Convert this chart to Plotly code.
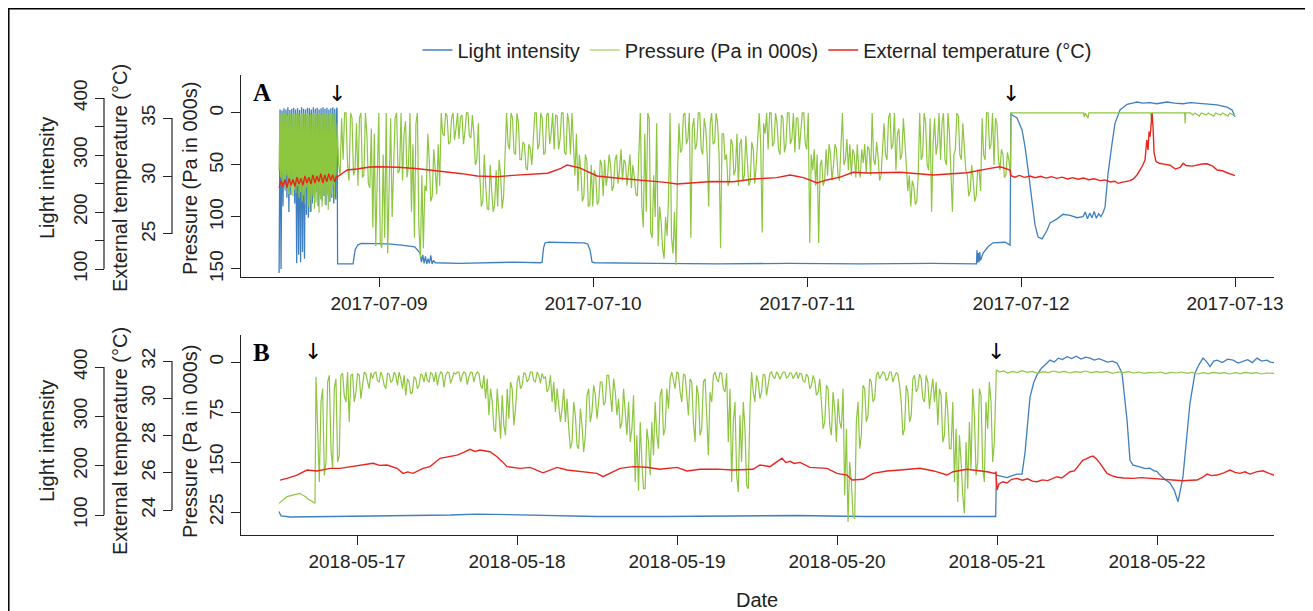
import pandas as pd
import plotly.graph_objects as go

# the page body has an 8px margin, so the figure is drawn 8px in from the window corner
OFF = 8
W, H = 1313 - OFF, 611 - OFF

BLUE = "#3f7fbf"
GREEN = "#8dc63f"
RED = "#e8261e"
INK = "#222222"
FONT = "Liberation Sans, Arial, Helvetica, sans-serif"

A0 = pd.Timestamp("2017-07-08")
B0 = pd.Timestamp("2018-05-16")

# ---------------- panel A (hours after 2017-07-08 00:00) ----------------
# dense phase before the first arrow, logged evenly 12.8h - 19.25h
a_light_dense = [93, 380, 100, 378, 210, 382, 240, 380, 225, 384, 200, 379, 230, 381, 250, 383,
                 215, 380, 110, 382, 125, 379, 112, 384, 130, 381, 118, 380, 195, 383, 190, 382,
                 200, 380, 215, 384, 225, 381, 235, 383, 210, 380, 230, 382, 220, 384, 228, 381,
                 212, 383, 232, 380, 218, 382, 225, 384, 215, 381, 222, 383]
a_press_dense = [55, 0, 62, 2, 70, 0, 66, 1, 75, 0, 60, 3, 78, 0, 72, 0, 68, 2, 80, 0, 74, 1, 77, 0,
                 70, 0, 82, 2, 76, 0, 85, 0, 79, 1, 88, 0, 72, 0, 90, 2, 84, 0, 95, 1, 80, 0, 92, 0,
                 86, 3, 78, 0, 96, 0, 83, 2, 90, 0, 75, 1, 88, 0, 80, 0, 93, 2, 85, 0, 78, 1, 70, 0,
                 82, 0, 60, 10]
a_temp_dense = [29.0, 29.6, 29.1, 29.7, 29.0, 29.8, 29.2, 29.7, 29.1, 29.9, 29.3, 29.8, 29.2, 30.0,
                29.4, 29.9, 29.3, 30.1, 29.4, 30.0, 29.5, 30.2, 29.4, 30.1, 29.5, 30.2, 29.6, 30.1,
                29.5, 30.0]

# pressure between the arrows, logged evenly 19.3h - 94.8h: (reading, next reading) per step
a_press_band = [
    (10, 50), (60, 5), (45, 0),
    (0, 50), (65, 0), (5, 60), (55, 10), (70, 5), (0, 62), (60, 0), (20, 68), (72, 15),
    (110, 20), (128, 60), (0, 125), (130, 40), (120, 0), (135, 70), (5, 100),
    (60, 5), (0, 58), (55, 0), (65, 20), (8, 62), (50, 0),
    (95, 30), (120, 10), (0, 110), (139, 60), (130, 70),
    (75, 20), (45, 85), (80, 35), (55, 78), (30, 70),
    (0, 20), (22, 0), (3, 30), (28, 5), (0, 26), (15, 0), (25, 4), (2, 30), (18, 0), (0, 22), (24, 2),
    (20, 50), (45, 10), (60, 90), (85, 40), (70, 92), (93, 50), (75, 95), (88, 55), (90, 45), (60, 92), (80, 30),
    (0, 30), (35, 0), (5, 38), (40, 0), (10, 45),
    (45, 28), (30, 52), (55, 30), (35, 50), (25, 0),
    (0, 35), (30, 0), (5, 40), (38, 2), (0, 30), (20, 0), (35, 2), (3, 35), (25, 0), (0, 38), (40, 0), (10, 40), (0, 30),
    (60, 20), (75, 40),
    (55, 85), (80, 40), (45, 90), (88, 50), (90, 55), (60, 88), (85, 45), (50, 80),
    (45, 70), (60, 40), (50, 75), (70, 45), (40, 68), (55, 35), (65, 45), (48, 70), (58, 40), (72, 50), (62, 78), (80, 45),
    (0, 90), (110, 20), (95, 0), (5, 115), (120, 60), (100, 10),
    (128, 90), (105, 130), (140, 100), (118, 80), (0, 120), (135, 95), (146, 60),
    (10, 38), (35, 2), (0, 30), (25, 0), (120, 15), (5, 35), (30, 0), (0, 35), (40, 5), (15, 40), (90, 10),
    (0, 30), (28, 0), (10, 40), (130, 20), (20, 45),
    (40, 70), (65, 25), (30, 60), (55, 20), (70, 30), (25, 65), (60, 22), (45, 70), (65, 28), (35, 68), (50, 20),
    (0, 30), (115, 10), (20, 0), (35, 0), (0, 32), (28, 0), (10, 35), (40, 2), (5, 38), (30, 0), (0, 30),
    (25, 0), (38, 5), (5, 35), (20, 0), (0, 30), (35, 0), (125, 40),
    (55, 35), (70, 40), (125, 50), (45, 70), (65, 35), (60, 30), (40, 65),
    (50, 30), (35, 60), (65, 35), (0, 50), (45, 25), (55, 30), (60, 35), (40, 62), (30, 55), (62, 35),
    (48, 30), (58, 32), (35, 60), (0, 45), (50, 28), (42, 65), (60, 35),
    (10, 40), (45, 5), (0, 35), (30, 0), (55, 20), (15, 45), (40, 5), (25, 50),
    (75, 60), (90, 65), (70, 88), (85, 60),
    (0, 45), (40, 0), (10, 50), (55, 5), (95, 30), (5, 40), (30, 0), (45, 10), (0, 45), (50, 0), (20, 55),
    (95, 40), (35, 0), (3, 40), (45, 10), (30, 55),
    (60, 80), (75, 50), (65, 85), (80, 55), (55, 75),
    (5, 40), (45, 0), (0, 35), (30, 0), (50, 5), (10, 45),
    (55, 35), (40, 62), (60, 38), (45, 60),
]

a_press_pts = [(94.88, 0), (103.0, 0), (103.1, 4), (103.2, 0), (103.5, 5), (103.6, 0), (110.55, 0),
               (110.6, 7), (110.7, 0), (114.35, 0), (114.4, 10), (114.45, 0), (115.0, 0), (115.3, 2),
               (115.5, 0), (116.0, 3), (116.2, 0), (116.8, 2), (117.0, 0), (117.6, 3), (117.8, 0),
               (118.4, 2), (118.6, 0), (119.2, 3), (119.4, 0), (120.0, 3)]

a_light_pts = [(19.29, 380), (19.35, 109), (21.08, 109), (21.31, 133), (21.6, 142), (22.0, 145),
               (23.5, 145), (25.0, 144), (26.5, 142), (27.48, 140), (28.0, 139), (28.6, 128),
               (28.75, 112), (28.9, 125), (29.05, 110), (29.2, 122), (29.35, 109), (29.5, 118),
               (29.65, 110), (29.8, 124), (29.95, 109), (30.1, 115), (30.3, 111), (33.0, 110),
               (36.0, 111), (39.0, 112), (42.1, 111), (42.28, 112), (42.45, 137), (42.62, 146),
               (43.0, 147), (44.5, 147), (46.0, 146), (47.0, 146), (47.4, 144), (47.66, 133),
               (47.89, 112), (48.22, 111), (55.0, 110), (62.0, 109), (70.0, 110), (78.0, 109),
               (86.0, 110), (91.0, 109), (91.06, 133), (91.12, 111), (91.2, 128), (91.28, 112),
               (91.36, 130), (91.45, 115), (91.74, 128), (92.3, 139), (92.85, 146), (93.5, 147),
               (94.2, 147), (94.77, 142), (94.86, 374), (95.0, 370), (95.55, 365), (96.11, 344),
               (96.45, 314), (96.79, 274), (97.23, 221), (97.57, 177), (97.91, 156), (98.36, 153),
               (98.92, 168), (99.25, 181), (100.04, 188), (100.71, 196), (101.5, 194), (102.28, 190),
               (102.95, 192), (103.2, 200), (103.45, 188), (103.7, 198), (103.95, 190), (104.2, 201),
               (104.45, 189), (104.7, 197), (104.95, 192), (105.2, 199), (105.42, 209), (105.76, 268),
               (106.21, 321), (106.54, 356), (107.1, 379), (107.89, 389), (108.5, 391), (109.01, 393),
               (109.6, 391), (110.47, 392), (111.2, 390), (112.37, 393), (113.2, 391), (114.17, 390),
               (115.0, 392), (116.08, 391), (117.0, 389), (117.98, 388), (119.1, 384), (119.66, 379),
               (120.0, 367)]

a_temp_pts = [(19.29, 29.9), (19.62, 30.09), (20.41, 30.52), (21.5, 30.6), (22.99, 30.78), (24.0, 30.8),
              (26.2, 30.75), (28.4, 30.62), (29.72, 30.52), (31.5, 30.37), (33.3, 30.2), (34.99, 30.0),
              (37.23, 29.94), (39.0, 30.05), (40.93, 30.17), (42.9, 30.24), (44.4, 30.66), (45.08, 30.95),
              (46.5, 30.7), (48.45, 30.0), (50.3, 29.85), (52.15, 29.74), (54.2, 29.6), (56.1, 29.45),
              (57.42, 29.31), (59.4, 29.45), (61.3, 29.52), (63.7, 29.51), (66.0, 29.74), (68.6, 29.86),
              (70.1, 30.09), (71.6, 29.86), (73.12, 29.4), (74.2, 29.66), (75.7, 29.9), (77.16, 30.32),
              (78.8, 30.26), (82.43, 30.32), (86.13, 30.09), (89.94, 30.28), (91.06, 30.47),
              (92.52, 30.66), (93.65, 30.8), (94.77, 30.52), (94.86, 30.03), (95.3, 29.9), (95.8, 30.05),
              (96.4, 29.88), (97.0, 30.0), (97.6, 29.85), (98.2, 29.97), (98.8, 29.82), (99.4, 29.94),
              (100.0, 29.8), (100.6, 29.9), (101.2, 29.75), (101.8, 29.86), (102.4, 29.72), (103.0, 29.82),
              (103.6, 29.68), (104.2, 29.76), (104.86, 29.6), (105.4, 29.66), (106.0, 29.49), (106.5, 29.55),
              (106.9, 29.37), (107.3, 29.45), (107.7, 29.5), (108.22, 29.6), (108.6, 29.75), (109.0, 30.09),
              (109.34, 30.52), (109.6, 30.86), (109.9, 31.38), (110.1, 33.1), (110.24, 32.24),
              (110.35, 33.82), (110.47, 33.4), (110.58, 34.57), (110.69, 35.4), (110.8, 34.25),
              (110.92, 32.0), (111.14, 31.24), (111.5, 31.1), (112.2, 31.0), (112.71, 30.93), (113.3, 30.6),
              (113.83, 30.75), (114.17, 31.1), (114.5, 30.9), (115.2, 30.85), (116.3, 31.03),
              (116.86, 31.05), (117.5, 30.85), (117.98, 30.52), (118.6, 30.45), (119.1, 30.28),
              (120.0, 30.03)]

# ---------------- panel B (hours after 2018-05-16 00:00) ----------------
b_press_start = [(12.3, 212), (12.7, 208), (13.1, 205), (13.5, 202), (13.9, 201), (14.3, 199), (14.7, 198),
                 (15.0, 198), (15.4, 197), (15.9, 200), (16.3, 202), (16.6, 205), (16.95, 207), (17.3, 210),
                 (17.7, 212)]

# pressure between the arrows, logged evenly 17.85h - 119.85h: (reading, next reading) per step
b_press_band = [
    (22, 120), (180, 60), (40, 170), (150, 30), (20, 130), (160, 40), (25, 150), (140, 20),
    (17, 50), (60, 15), (90, 20), (18, 60), (45, 17), (20, 55),
    (35, 15), (18, 30), (40, 16), (25, 17), (15, 28), (30, 15), (22, 35), (40, 17), (18, 30), (28, 15), (20, 35), (15, 25),
    (40, 20), (50, 25), (30, 48), (45, 22), (25, 40), (35, 18), (20, 30), (15, 28), (30, 16),
    (18, 30), (15, 35), (22, 15), (17, 38), (20, 15), (16, 32), (25, 16), (18, 15), (15, 30), (20, 15),
    (17, 34), (22, 15), (16, 30), (19, 15), (17, 35),
    (40, 20), (55, 25), (80, 40), (60, 100), (105, 40), (75, 115), (50, 95), (110, 40), (85, 30), (40, 95), (70, 30),
    (20, 40), (35, 16), (18, 30), (25, 15), (15, 28), (30, 15), (20, 32), (17, 25), (22, 45), (40, 20), (60, 30), (75, 40), (65, 90),
    (70, 40), (90, 55), (100, 130), (120, 60), (80, 125), (130, 70), (95, 135), (110, 50), (40, 90), (75, 35), (50, 85), (60, 30),
    (30, 65), (60, 20), (20, 55), (75, 25), (45, 80), (55, 100), (90, 40), (70, 110), (60, 120), (100, 50),
    (180, 110), (193, 90), (150, 190), (190, 100), (120, 170),
    (90, 140), (60, 110), (130, 50), (40, 110), (100, 40), (70, 25),
    (15, 30), (40, 15), (17, 45), (60, 18), (20, 50),
    (80, 25), (30, 90), (120, 35), (50, 110), (100, 30), (25, 80), (140, 45), (60, 20),
    (15, 25), (30, 16), (17, 40), (45, 17),
    (120, 40), (180, 90), (60, 170), (195, 80), (150, 60), (100, 185), (190, 70),
    (15, 45), (60, 20), (30, 55), (45, 18), (20, 50), (35, 17),
    (15, 22), (25, 15), (18, 26), (20, 15), (15, 24), (22, 16), (17, 25), (20, 15), (25, 17), (18, 28),
    (30, 18), (22, 40), (35, 20), (28, 50),
    (45, 25), (60, 100), (90, 35), (40, 95), (110, 45), (70, 120), (55, 90), (100, 40),
    (200, 100), (240, 150), (180, 230), (235, 90),
    (60, 130), (110, 35), (40, 90), (80, 25), (30, 60), (55, 20),
    (15, 25), (20, 15), (17, 28), (25, 15), (15, 30), (22, 16), (18, 35),
    (60, 110), (100, 35), (45, 90), (80, 25),
    (20, 45), (40, 18), (25, 55), (60, 20), (30, 70), (45, 25),
    (60, 30), (95, 40), (50, 120), (110, 45), (75, 130),
    (130, 60), (180, 100), (210, 110), (150, 200), (227, 120), (190, 90), (160, 40),
    (80, 170), (150, 40), (50, 160), (180, 60), (100, 30), (60, 150), (120, 40),
]

b_press_end = [(119.9, 12), (120.4, 15), (121.0, 13.5), (121.6, 16.5), (122.3, 14), (123.0, 16), (123.8, 13),
               (124.5, 15.5), (125.3, 14), (126.1, 17), (126.9, 14.5), (127.7, 16), (128.5, 13.5),
               (129.3, 15.5), (130.1, 14), (130.9, 16.5), (131.7, 14.5), (132.5, 15.5), (133.3, 13.5),
               (134.1, 16), (134.9, 14.5), (135.7, 15.5), (136.5, 14), (137.3, 17), (138.1, 15), (138.9, 16),
               (139.7, 14.5), (140.5, 16.5), (141.3, 15), (142.1, 17), (142.9, 15.5), (143.7, 16.5),
               (144.5, 15), (145.3, 17.5), (146.1, 15.5), (146.9, 16.5), (147.7, 15), (148.5, 17),
               (149.3, 15.5), (150.1, 18), (150.9, 16), (151.7, 17.5), (152.5, 15.5), (153.3, 17),
               (154.1, 16), (154.9, 18), (155.7, 16), (156.5, 17.5), (157.3, 15.5), (158.1, 17), (158.9, 16),
               (159.7, 18), (160.5, 16.5), (161.55, 17)]

b_light_pts = [(12.3, 107), (12.6, 98), (14.0, 96), (20.0, 97), (30.0, 98), (38.0, 100), (42.0, 102),
               (46.0, 101), (52.0, 98), (60.0, 97), (70.0, 97), (80.0, 98), (86.0, 100), (90.0, 99),
               (100.0, 97), (110.0, 97), (119.8, 97), (119.9, 181), (121.5, 176), (122.3, 180), (123.0, 183),
               (123.75, 183), (124.2, 226), (124.95, 339), (125.5, 368), (126.0, 384), (126.7, 398),
               (127.5, 408), (127.95, 414), (128.6, 410), (129.2, 418), (129.8, 415), (130.5, 421),
               (131.2, 417), (131.9, 422), (132.6, 416), (133.3, 420), (133.95, 418), (134.6, 414),
               (135.3, 417), (135.9, 414), (136.6, 410), (137.3, 412), (138.0, 408), (138.75, 388),
               (139.5, 293), (139.95, 211), (140.4, 201), (141.3, 198), (142.2, 194), (142.95, 195),
               (143.5, 190), (144.0, 188), (144.45, 181), (145.2, 172), (145.95, 165), (146.6, 150),
               (147.15, 127), (147.5, 150), (147.9, 178), (148.4, 250), (148.95, 327), (149.7, 388),
               (150.3, 405), (150.9, 418), (151.5, 410), (151.95, 401), (152.5, 412), (153.0, 414),
               (153.8, 409), (154.6, 416), (155.4, 414), (156.2, 408), (156.9, 411), (157.6, 415),
               (158.3, 409), (159.0, 418), (159.7, 412), (160.5, 414), (161.0, 410), (161.55, 409)]

b_temp_pts = [(12.45, 25.61), (13.5, 25.7), (15.0, 25.88), (16.5, 26.15), (18.0, 26.1), (19.95, 26.24),
              (21.45, 26.24), (22.95, 26.33), (24.9, 26.42), (26.4, 26.51), (27.4, 26.4), (28.5, 26.42),
              (30.0, 26.24), (30.9, 25.97), (31.6, 26.05), (32.4, 25.97), (33.9, 26.24), (34.95, 26.33),
              (36.45, 26.78), (37.7, 26.85), (39.0, 26.95), (40.0, 27.1), (40.95, 27.26), (41.7, 27.15),
              (42.45, 27.22), (43.95, 27.13), (45.0, 26.86), (45.8, 26.6), (46.5, 26.33), (48.45, 26.24),
              (49.95, 26.29), (51.9, 26.0), (54.0, 26.29), (55.5, 26.15), (57.45, 26.06), (60.0, 25.97),
              (60.9, 25.79), (62.4, 26.06), (63.45, 26.24), (65.4, 26.33), (67.5, 26.3), (69.45, 26.19),
              (72.0, 26.29), (73.5, 26.1), (75.45, 26.19), (78.0, 26.2), (80.4, 26.15), (83.4, 26.19),
              (84.45, 26.42), (85.95, 26.33), (87.75, 26.78), (88.3, 26.55), (88.95, 26.62), (89.6, 26.5),
              (90.45, 26.56), (91.95, 26.29), (94.5, 26.24), (96.0, 25.97), (97.5, 25.88), (98.25, 25.61),
              (99.9, 25.65), (101.4, 25.97), (103.5, 26.1), (105.45, 26.15), (108.45, 26.24), (110.5, 26.1),
              (112.5, 25.88), (113.4, 26.06), (115.5, 26.19), (118.5, 26.06), (119.7, 25.97),
              (119.85, 26.06), (120.0, 25.07), (120.3, 25.4), (120.9, 25.52), (121.5, 25.45), (122.2, 25.65),
              (123.0, 25.7), (123.8, 25.6), (124.6, 25.68), (125.3, 25.55), (126.0, 25.52), (126.8, 25.62),
              (127.6, 25.58), (128.3, 25.7), (129.0, 25.79), (129.7, 25.72), (130.3, 25.9), (130.95, 26.06),
              (131.6, 26.1), (132.3, 26.4), (132.9, 26.68), (133.4, 26.75), (133.95, 26.86), (134.4, 26.9),
              (134.9, 26.75), (135.45, 26.51), (136.0, 26.2), (136.5, 25.97), (137.2, 25.85), (138.0, 25.76),
              (139.0, 25.72), (140.4, 25.7), (141.6, 25.74), (142.95, 25.7), (144.2, 25.68), (145.5, 25.65),
              (146.7, 25.62), (147.9, 25.57), (149.0, 25.6), (150.0, 25.61), (150.8, 25.75), (151.5, 25.93),
              (152.2, 25.85), (153.0, 25.88), (154.0, 26.0), (154.95, 26.15), (155.7, 26.02),
              (156.45, 25.97), (157.2, 26.05), (157.95, 25.93), (158.9, 26.05), (159.9, 26.11),
              (160.7, 25.98), (161.55, 25.88)]

# arrows marking deployment / recovery (hours)
a_arrows = [19.3, 94.9]
b_arrows = [17.4, 119.85]


def at(day0, hours):
    return [day0 + pd.Timedelta(hours=h) for h in hours]


def even(day0, h0, h1, n):
    return list(pd.date_range(day0 + pd.Timedelta(hours=h0), day0 + pd.Timedelta(hours=h1), periods=n))


def unzip(day0, pts):
    return at(day0, [p[0] for p in pts]), [p[1] for p in pts]


def flat(band):
    return [v for pair in band for v in pair]


# reference pixel -> paper fraction
def px(x):
    return (x - OFF) / W


def py(y):
    return 1 - (y - OFF) / H


fig = go.Figure()

# panel A
lx, ly = unzip(A0, a_light_pts)
fig.add_trace(go.Scatter(x=even(A0, 12.79, 19.25, len(a_light_dense)) + lx, y=a_light_dense + ly,
                         mode="lines", line=dict(color=BLUE, width=1.3), name="Light intensity",
                         xaxis="x", yaxis="y"))
a_mid = flat(a_press_band)
qx, qy = unzip(A0, a_press_pts)
fig.add_trace(go.Scatter(x=even(A0, 12.79, 19.25, len(a_press_dense)) + even(A0, 19.3, 94.8, len(a_mid)) + qx,
                         y=a_press_dense + a_mid + qy,
                         mode="lines", line=dict(color=GREEN, width=1.2), name="Pressure (Pa in 000s)",
                         xaxis="x", yaxis="y2"))
tx, ty = unzip(A0, a_temp_pts)
fig.add_trace(go.Scatter(x=even(A0, 12.79, 19.25, len(a_temp_dense)) + tx, y=a_temp_dense + ty,
                         mode="lines", line=dict(color=RED, width=1.4), name="External temperature (°C)",
                         xaxis="x", yaxis="y3"))

# panel B
lx, ly = unzip(B0, b_light_pts)
fig.add_trace(go.Scatter(x=lx, y=ly, mode="lines", line=dict(color=BLUE, width=1.3),
                         showlegend=False, xaxis="x2", yaxis="y4"))
b_mid = flat(b_press_band)
sx, sy = unzip(B0, b_press_start)
ex, ey = unzip(B0, b_press_end)
fig.add_trace(go.Scatter(x=sx + even(B0, 17.85, 119.85, len(b_mid)) + ex, y=sy + b_mid + ey,
                         mode="lines", line=dict(color=GREEN, width=1.2), showlegend=False,
                         xaxis="x2", yaxis="y5"))
tx, ty = unzip(B0, b_temp_pts)
fig.add_trace(go.Scatter(x=tx, y=ty, mode="lines", line=dict(color=RED, width=1.4),
                         showlegend=False, xaxis="x2", yaxis="y6"))

axis_style = dict(showgrid=False, zeroline=False, ticks="outside", ticklen=9, tickwidth=1.2,
                  tickcolor=INK, linecolor=INK, linewidth=1.2, automargin=False,
                  tickfont=dict(size=19, color=INK, family=FONT))
yrot = dict(axis_style, tickangle=-90)

dom_a = [py(277), py(75)]
dom_b = [py(535), py(335)]
xdom = [px(241), px(1274)]

fig.update_layout(
    width=W, height=H, template="none",
    paper_bgcolor="white", plot_bgcolor="white",
    margin=dict(l=0, r=0, t=0, b=0),
    font=dict(family=FONT, color=INK, size=19),
    showlegend=True,
    legend=dict(orientation="h", x=px(757), xanchor="center", y=py(50), yanchor="middle",
                font=dict(size=20, color=INK), bgcolor="rgba(0,0,0,0)", itemwidth=30),
    xaxis=dict(axis_style, domain=xdom, anchor="y", type="date", showline=True,
               range=["2017-07-08 08:31", "2017-07-13 04:22"], dtick=86400000,
               tick0="2017-07-09", tickformat="%Y-%m-%d"),
    xaxis2=dict(axis_style, domain=xdom, anchor="y4", type="date", showline=True,
                range=["2018-05-16 06:36", "2018-05-22 17:33"], dtick=86400000,
                tick0="2018-05-17", tickformat="%Y-%m-%d"),
    # panel A: light (base), pressure, temperature
    yaxis=dict(yrot, domain=dom_a, anchor="free", position=px(104), showline=False,
               range=[86, 440.4], tickvals=[100, 150, 200, 250, 300, 350, 400],
               ticktext=["100", "", "200", "", "300", "", "400"]),
    yaxis2=dict(yrot, overlaying="y", anchor="x", side="left", showline=True,
                range=[157.7, -36.5], tickvals=[0, 50, 100, 150]),
    yaxis3=dict(yrot, overlaying="y", anchor="free", position=px(172), side="left", showline=False,
                range=[21.29, 38.71], tickvals=[25, 30, 35]),
    # panel B
    yaxis4=dict(yrot, domain=dom_b, anchor="free", position=px(104), showline=False,
                range=[59.5, 464.9], tickvals=[100, 200, 300, 400]),
    yaxis5=dict(yrot, overlaying="y4", anchor="x2", side="left", showline=True,
                range=[259.5, -40.5], tickvals=[0, 75, 150, 225]),
    yaxis6=dict(yrot, overlaying="y4", anchor="free", position=px(172), side="left", showline=False,
                range=[22.66, 33.40], tickvals=[24, 26, 28, 30, 32]),
)

# R-style axis lines that only span the labelled ticks
for yref, lo, hi, xpos in [("y", 100, 400, 104), ("y3", 25, 35, 172),
                           ("y4", 100, 400, 104), ("y6", 24, 32, 172)]:
    fig.add_shape(type="line", xref="paper", yref=yref, x0=px(xpos), x1=px(xpos), y0=lo, y1=hi,
                  line=dict(color=INK, width=1.2))

# outer frame (kept just inside the drawable area)
fig.add_shape(type="rect", xref="paper", yref="paper", x0=px(8.8), x1=px(1306), y0=-0.05, y1=py(8.8),
              line=dict(color="black", width=1.5))

# axis titles
for yc in (178, 441):
    for xc, txt in [(47, "Light intensity"), (120, "External temperature (°C)"),
                    (190, "Pressure (Pa in 000s)")]:
        fig.add_annotation(xref="paper", yref="paper", x=px(xc), y=py(yc), text=txt, textangle=-90,
                           xanchor="center", yanchor="middle", showarrow=False,
                           font=dict(size=20, color=INK))
fig.add_annotation(xref="paper", yref="paper", x=px(757), y=py(600), text="Date", showarrow=False,
                   xanchor="center", yanchor="middle", font=dict(size=20, color=INK))

# panel letters
for txt, yc in [("A", 92), ("B", 352)]:
    fig.add_annotation(xref="paper", yref="paper", x=px(262), y=py(yc), text=f"<b>{txt}</b>",
                       xanchor="center", yanchor="middle", showarrow=False,
                       font=dict(size=25, color="black", family="Liberation Serif, Times New Roman, serif"))

# arrows
for xref, day0, hrs_, yc in [("x", A0, a_arrows, 93), ("x2", B0, b_arrows, 351)]:
    for t in at(day0, hrs_):
        fig.add_annotation(xref=xref, yref="paper", x=t, y=py(yc), text="↓", showarrow=False,
                           xanchor="center", yanchor="middle",
                           font=dict(size=22, color="black", family="DejaVu Sans"))

fig.write_html("out.html")
